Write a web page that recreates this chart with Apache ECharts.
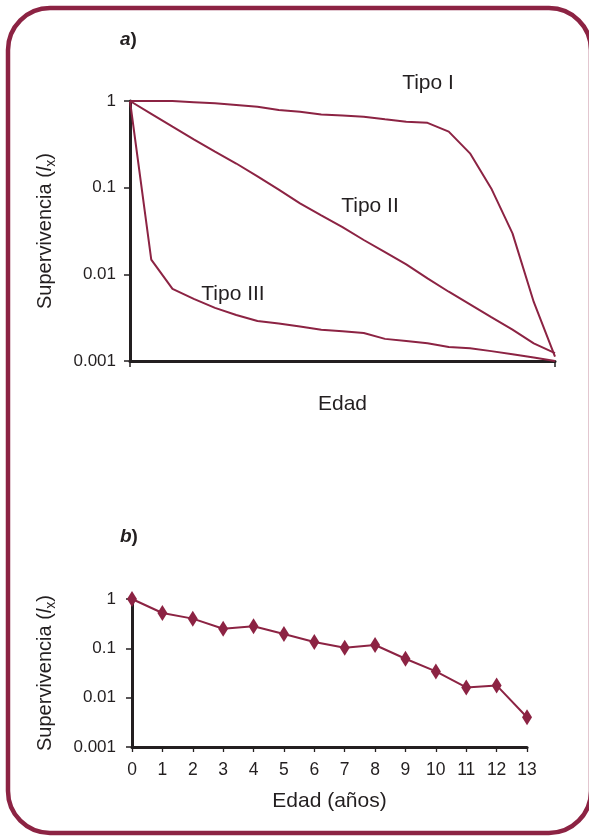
<!DOCTYPE html>
<html>
<head>
<meta charset="utf-8">
<script src="https://cdn.jsdelivr.net/npm/echarts@6/dist/echarts.min.js"></script>
<style>
html,body{margin:0;padding:0;background:#fff;}
#chart{width:589px;height:836px;}
</style>
</head>
<body>
<div id="chart"></div>
<script>
// ---- data: panel a (theoretical survivorship curves, age index 0..20) ----
const edadA = [0,1,2,3,4,5,6,7,8,9,10,11,12,13,14,15,16,17,18,19,20];
const tipoI   = [1,1,1,0.97,0.94,0.90,0.86,0.787,0.753,0.70,0.68,0.66,0.615,0.577,0.56,0.443,0.249,0.098,0.0297,0.0048,0.00112];
const tipoII  = [1,0.71,0.505,0.36,0.26,0.19,0.135,0.095,0.066,0.048,0.035,0.0249,0.018,0.013,0.009,0.0063,0.0045,0.0032,0.0023,0.0016,0.00123];
const tipoIII = [1,0.0148,0.0068,0.0052,0.0041,0.0034,0.0029,0.0027,0.0025,0.0023,0.0022,0.0021,0.0018,0.0017,0.0016,0.00145,0.0014,0.0013,0.0012,0.0011,0.001];
// ---- data: panel b (observed, age in years) ----
const edadB = [0,1,2,3,4,5,6,7,8,9,10,11,12,13];
const supB  = [1,0.52,0.40,0.25,0.28,0.195,0.134,0.103,0.117,0.0615,0.034,0.0161,0.0177,0.0040];
const yTicks = {1:'1',0.1:'0.1',0.01:'0.01',0.001:'0.001'};

const C = '#8c2343', INK = '#231f20', FONT = '"Liberation Sans", Arial, sans-serif';
const pair = (xs, ys) => xs.map((x, i) => [x, ys[i]]);
const fmtY = v => { for (const k in yTicks) { if (Math.abs(Math.log10(v) - Math.log10(+k)) < 1e-6) return yTicks[k]; } return ''; };

const yName = {
  a: {fontSize: 20, fontFamily: FONT, color: INK, lineHeight: 26, verticalAlign: 'middle'},
  i: {fontSize: 20, fontFamily: FONT, color: INK, fontStyle: 'italic', lineHeight: 26, verticalAlign: 'middle'},
  s: {fontSize: 14, fontFamily: FONT, color: INK, lineHeight: 26, verticalAlign: 'bottom', padding: [7, 0, 0, 0]}
};
const yNameText = '{a|Supervivencia (}{i|l}{s|x}{a|)}';

const lineStyleAxis = {color: INK, width: 3};
function yAxisCfg(idx, margin, gap) {
  return {
    type: 'log', logBase: 10, min: 0.001, max: 1, gridIndex: idx,
    name: yNameText, nameLocation: 'middle', nameGap: gap, nameRotate: 90,
    nameTextStyle: {rich: yName},
    axisLine: {show: true, lineStyle: lineStyleAxis},
    axisTick: {show: true, length: 6, lineStyle: {color: INK, width: 1.5}},
    axisLabel: {formatter: fmtY, fontSize: 17, fontFamily: FONT, color: INK, margin: margin},
    splitLine: {show: false}, minorTick: {show: false}
  };
}
const nameStyle = {fontSize: 21, fontFamily: FONT, color: INK};

const chart = echarts.init(document.getElementById('chart'), null, {renderer: 'canvas'});
chart.setOption({
  animation: false,
  backgroundColor: '#fff',
  grid: [
    {left: 130, top: 101, width: 425, height: 260},
    {left: 132, top: 599, width: 395, height: 148}
  ],
  xAxis: [
    {type: 'value', gridIndex: 0, min: 0, max: 20, interval: 20,
     name: 'Edad', nameLocation: 'middle', nameGap: 33, nameTextStyle: nameStyle,
     axisLine: {show: true, onZero: false, lineStyle: lineStyleAxis},
     axisTick: {show: true, length: 6, lineStyle: {color: INK, width: 1.5}},
     axisLabel: {show: false}, splitLine: {show: false}},
    {type: 'value', gridIndex: 1, min: 0, max: 13, interval: 1,
     name: 'Edad (años)', nameLocation: 'middle', nameGap: 44, nameTextStyle: nameStyle,
     axisLine: {show: true, onZero: false, lineStyle: lineStyleAxis},
     axisTick: {show: true, length: 5, lineStyle: {color: INK, width: 1.3}},
     axisLabel: {fontSize: 17.5, fontFamily: FONT, color: INK, margin: 14},
     splitLine: {show: false}}
  ],
  yAxis: [yAxisCfg(0, 14, 72), yAxisCfg(1, 16, 74)],
  series: [
    {name: 'Tipo I', type: 'line', xAxisIndex: 0, yAxisIndex: 0, data: pair(edadA, tipoI), showSymbol: false, symbol: 'none', lineStyle: {color: C, width: 2}},
    {name: 'Tipo II', type: 'line', xAxisIndex: 0, yAxisIndex: 0, data: pair(edadA, tipoII), showSymbol: false, symbol: 'none', lineStyle: {color: C, width: 2}},
    {name: 'Tipo III', type: 'line', xAxisIndex: 0, yAxisIndex: 0, data: pair(edadA, tipoIII), showSymbol: false, symbol: 'none', lineStyle: {color: C, width: 2}},
    {name: 'b', type: 'line', xAxisIndex: 1, yAxisIndex: 1, data: pair(edadB, supB), symbol: 'diamond', symbolSize: [10, 16], itemStyle: {color: C}, lineStyle: {color: C, width: 2}}
  ],
  graphic: [
    {type: 'rect', shape: {x: 8, y: 8, width: 583, height: 825, r: 42}, style: {fill: 'none', stroke: C, lineWidth: 4.5}, z: 10},
    {type: 'text', left: 120, top: 30, style: {text: '{a|a}{p|)}', rich: {a: {fontSize: 19, fontFamily: FONT, fontWeight: 'bold', fontStyle: 'italic', fill: INK}, p: {fontSize: 19, fontFamily: FONT, fontWeight: 'bold', fill: INK}}}},
    {type: 'text', left: 120, top: 527, style: {text: '{a|b}{p|)}', rich: {a: {fontSize: 19, fontFamily: FONT, fontWeight: 'bold', fontStyle: 'italic', fill: INK}, p: {fontSize: 19, fontFamily: FONT, fontWeight: 'bold', fill: INK}}}},
    {type: 'text', x: 428, y: 83, style: {text: 'Tipo I', fontSize: 21, fontFamily: FONT, fill: INK, align: 'center', verticalAlign: 'middle'}},
    {type: 'text', x: 370, y: 206, style: {text: 'Tipo II', fontSize: 21, fontFamily: FONT, fill: INK, align: 'center', verticalAlign: 'middle'}},
    {type: 'text', x: 233, y: 294, style: {text: 'Tipo III', fontSize: 21, fontFamily: FONT, fill: INK, align: 'center', verticalAlign: 'middle'}}
  ]
});
</script>
</body>
</html>
